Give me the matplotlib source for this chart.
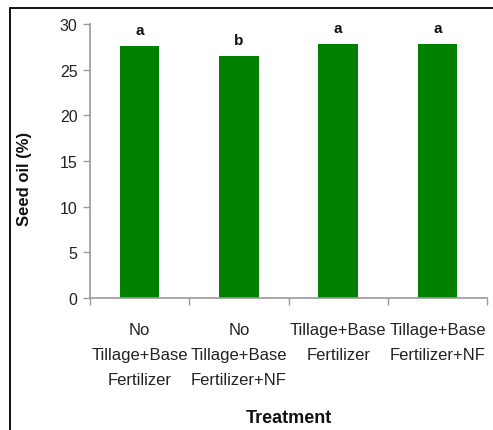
import matplotlib
matplotlib.use("Agg")
import matplotlib.pyplot as plt
from matplotlib.patches import Rectangle

categories = ["No\nTillage+Base\nFertilizer", "No\nTillage+Base\nFertilizer+NF",
              "Tillage+Base\nFertilizer", "Tillage+Base\nFertilizer+NF"]
seed_oil = [27.6, 26.5, 27.8, 27.8]
letters = ["a", "b", "a", "a"]
yticks = [0, 5, 10, 15, 20, 25, 30]

plt.rcParams['font.family'] = ['Liberation Sans', 'DejaVu Sans']

W, H = 493, 431
fig = plt.figure(figsize=(W / 100, H / 100), dpi=100)
ax = fig.add_axes([90 / W, 1 - 299 / H, 397 / W, 274 / H])

x = list(range(len(categories)))
ax.bar(x, seed_oil, width=0.40, color="#008000", zorder=2)
for xi, v, l in zip(x, seed_oil, letters):
    ax.text(xi, v + 1.0, l, ha="center", va="bottom", fontsize=11, fontweight="bold", color="#111111")

ax.set_xlim(-0.5, len(categories) - 0.5)
ax.set_ylim(0, 30)
ax.set_yticks(yticks)
ax.set_yticklabels([str(t) for t in yticks], fontsize=11.5, color="#222222")
ax.set_xticks([i + 0.5 for i in range(-1, len(categories))], minor=False)
ax.set_xticklabels([])
ax.set_xticks(x, minor=True)
ax.set_xticklabels(categories, minor=True, fontsize=12, linespacing=1.85, color="#222222")
ax.tick_params(axis="x", which="minor", length=0, pad=17)
ax.tick_params(axis="x", which="major", length=5, color="#999999", width=1)
ax.tick_params(axis="y", length=5, color="#999999", width=1, pad=4)

for s in ["top", "right"]:
    ax.spines[s].set_visible(False)
for s in ["left", "bottom"]:
    ax.spines[s].set_color("#999999")
    ax.spines[s].set_linewidth(1.2)

fig.text(25 / W, 1 - 179 / H, "Seed oil (%)", rotation=90, ha="center", va="center",
         fontsize=12, fontweight="bold", color="#111111")
fig.text(289 / W, 1 - 419 / H, "Treatment", ha="center", va="center",
         fontsize=13, fontweight="bold", color="#111111")

fig.patches.append(Rectangle((10 / W, -0.05), 1.0, 1 - 9 / H + 0.05,
                             transform=fig.transFigure, fill=False, edgecolor="black", linewidth=1.3))

fig.savefig("out.png", dpi=100)
